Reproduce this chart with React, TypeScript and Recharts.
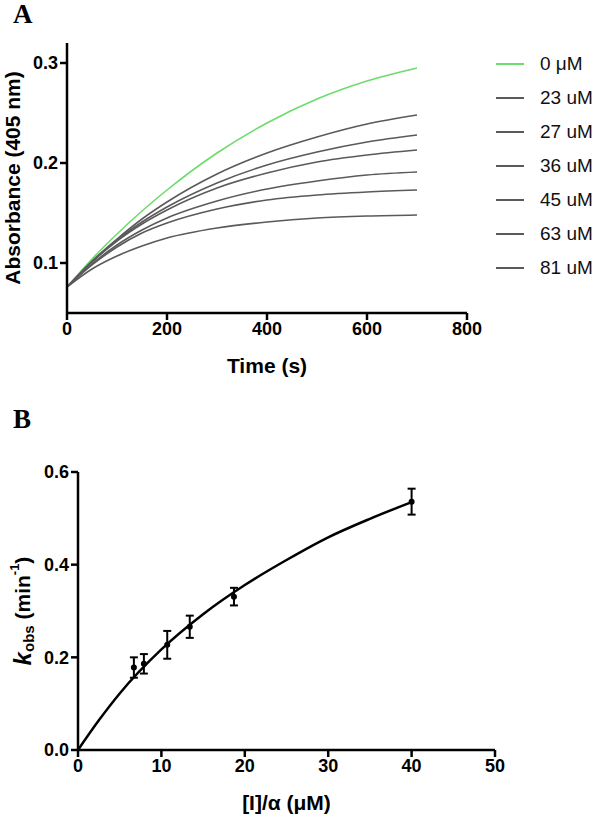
import React from 'react'
import { LineChart, Line, XAxis, YAxis, Legend, ComposedChart, Scatter, ErrorBar, Label } from 'recharts'

const FONT = '"Liberation Sans", Arial, Helvetica, sans-serif'
const SERIF = '"Liberation Serif", "Times New Roman", serif'

// Panel A: absorbance traces
const times = [0, 50, 100, 150, 200, 300, 400, 500, 600, 700]
const abs0uM = [0.076, 0.104, 0.129, 0.152, 0.173, 0.210, 0.240, 0.264, 0.282, 0.295]
const abs23uM = [0.076, 0.102, 0.124, 0.144, 0.161, 0.189, 0.210, 0.226, 0.239, 0.248]
const abs27uM = [0.076, 0.101, 0.123, 0.141, 0.156, 0.180, 0.198, 0.211, 0.221, 0.228]
const abs36uM = [0.076, 0.101, 0.122, 0.139, 0.153, 0.175, 0.190, 0.201, 0.208, 0.213]
const abs45uM = [0.076, 0.099, 0.118, 0.133, 0.145, 0.162, 0.174, 0.182, 0.188, 0.191]
const abs63uM = [0.076, 0.098, 0.116, 0.130, 0.140, 0.154, 0.163, 0.168, 0.171, 0.173]
const abs81uM = [0.076, 0.094, 0.107, 0.117, 0.125, 0.135, 0.141, 0.145, 0.147, 0.148]
const timeTicks = [0, 200, 400, 600, 800]
const absTicks = [0.1, 0.2, 0.3]

// Panel B: kobs vs [I]/alpha
const conc = [6.7, 7.9, 10.7, 13.4, 18.7, 40]
const kobs = [0.178, 0.186, 0.227, 0.266, 0.331, 0.536]
const kobsErr = [0.022, 0.021, 0.030, 0.024, 0.019, 0.028]
const fitX = [0, 2.5, 5, 10, 15, 20, 25, 30, 35, 40]
const fitY = [0, 0.064, 0.122, 0.217, 0.293, 0.356, 0.410, 0.459, 0.499, 0.535]
const concTicks = [0, 10, 20, 30, 40, 50]
const kobsTicks = [0, 0.2, 0.4, 0.6]

const GREY = '#5a5a5a'
const seriesA = [
  { key: 'c0', name: '0 \u03bcM', values: abs0uM, color: '#6cdc6c' },
  { key: 'c23', name: '23 uM', values: abs23uM, color: GREY },
  { key: 'c27', name: '27 uM', values: abs27uM, color: GREY },
  { key: 'c36', name: '36 uM', values: abs36uM, color: GREY },
  { key: 'c45', name: '45 uM', values: abs45uM, color: GREY },
  { key: 'c63', name: '63 uM', values: abs63uM, color: GREY },
  { key: 'c81', name: '81 uM', values: abs81uM, color: GREY },
]

const tableA = times.map((t, i) => {
  const row: any = { t }
  seriesA.forEach(s => { row[s.key] = s.values[i] })
  return row
})
const pointsB = conc.map((x, i) => ({ x, y: kobs[i], err: kobsErr[i] }))
const fitB = fitX.map((x, i) => ({ x, y: fitY[i] }))

const axisStyle = { stroke: '#000', strokeWidth: 2.5 }
const tickStyle = { fill: '#000', fontSize: 18, fontWeight: 700, fontFamily: FONT }

const renderLegend = () => (
  <div style={{ fontFamily: FONT, fontSize: 19, color: '#111' }}>
    {seriesA.map(s => (
      <div key={s.key} style={{ display: 'flex', alignItems: 'center', height: 34 }}>
        <span style={{ display: 'inline-block', width: 28, borderTop: `2px solid ${s.color}`, marginRight: 16 }} />
        <span>{s.name}</span>
      </div>
    ))}
  </div>
)

const xTitle = (text: React.ReactNode, dy: number) => (props: any) => {
  const vb = props.viewBox
  return (
    <text x={vb.x + vb.width / 2} y={vb.y + dy} textAnchor="middle" dominantBaseline="central"
      fontFamily={FONT} fontSize={21} fontWeight={700} fill="#000">
      {text}
    </text>
  )
}

const yTitle = (children: React.ReactNode, cx: number) => (props: any) => {
  const vb = props.viewBox
  const cy = vb.y + vb.height / 2
  return (
    <text x={cx} y={cy} transform={`rotate(-90, ${cx}, ${cy})`} textAnchor="middle" dominantBaseline="central"
      fontFamily={FONT} fontSize={21} fontWeight={700} fill="#000">
      {children}
    </text>
  )
}

const Dot = (p: any) => <circle cx={p.cx} cy={p.cy} r={3} fill="#000" />

export default function App() {
  return (
    <div style={{ position: 'absolute', left: 0, top: 0, width: 600, height: 819, background: '#fff' }}>
      <div style={{ position: 'absolute', left: 13, top: 1, fontFamily: SERIF, fontWeight: 700, fontSize: 27, lineHeight: 1 }}>A</div>
      <div style={{ position: 'absolute', left: 13, top: 406, fontFamily: SERIF, fontWeight: 700, fontSize: 27, lineHeight: 1 }}>B</div>

      <div style={{ position: 'absolute', left: 0, top: 0 }}>
        <LineChart width={600} height={380} data={tableA} margin={{ top: 43, right: 29, left: 0, bottom: 0 }}>
          <XAxis dataKey="t" type="number" domain={[0, 800]} ticks={timeTicks} height={67}
            axisLine={axisStyle} tickLine={axisStyle} tickSize={7} tick={tickStyle}>
            <Label content={xTitle('Time (s)', 52)} />
          </XAxis>
          <YAxis type="number" domain={[0.05, 0.32]} ticks={absTicks} width={67} allowDataOverflow
            axisLine={axisStyle} tickLine={axisStyle} tickSize={7} tick={tickStyle}
            tickFormatter={(v: number) => v.toFixed(1)}>
            <Label content={yTitle('Absorbance (405 nm)', 12)} />
          </YAxis>
          <Legend content={renderLegend} layout="vertical" verticalAlign="top" align="right"
            wrapperStyle={{ left: 496, top: 47, width: 104 }} />
          {seriesA.map(s => (
            <Line key={s.key} dataKey={s.key} name={s.name} type="monotone" stroke={s.color}
              strokeWidth={1.6} dot={false} isAnimationActive={false} />
          ))}
        </LineChart>
      </div>

      <div style={{ position: 'absolute', left: 0, top: 440 }}>
        <ComposedChart width={600} height={379} margin={{ top: 32, right: 105, left: 0, bottom: 0 }}>
          <XAxis dataKey="x" type="number" domain={[0, 50]} ticks={concTicks} height={69}
            axisLine={axisStyle} tickLine={axisStyle} tickSize={7} tick={tickStyle}>
            <Label content={xTitle('[I]/\u03b1 (\u03bcM)', 52)} />
          </XAxis>
          <YAxis type="number" domain={[0, 0.6]} ticks={kobsTicks} width={78}
            axisLine={axisStyle} tickLine={axisStyle} tickSize={7} tick={tickStyle}
            tickFormatter={(v: number) => v.toFixed(1)}>
            <Label content={yTitle(
              <>
                <tspan fontStyle="italic" fontSize={24}>k</tspan>
                <tspan fontSize={15} dy={6}>obs</tspan>
                <tspan dy={-6}> (min</tspan>
                <tspan fontSize={13} dy={-8}>-1</tspan>
                <tspan dy={8}>)</tspan>
              </>, 22)} />
          </YAxis>
          <Line data={fitB} dataKey="y" type="monotone" stroke="#000" strokeWidth={2.5} dot={false}
            isAnimationActive={false} />
          <Scatter data={pointsB} dataKey="y" shape={Dot} isAnimationActive={false}>
            <ErrorBar dataKey="err" direction="y" width={4} stroke="#000" strokeWidth={2} isAnimationActive={false} />
          </Scatter>
        </ComposedChart>
      </div>
    </div>
  )
}
